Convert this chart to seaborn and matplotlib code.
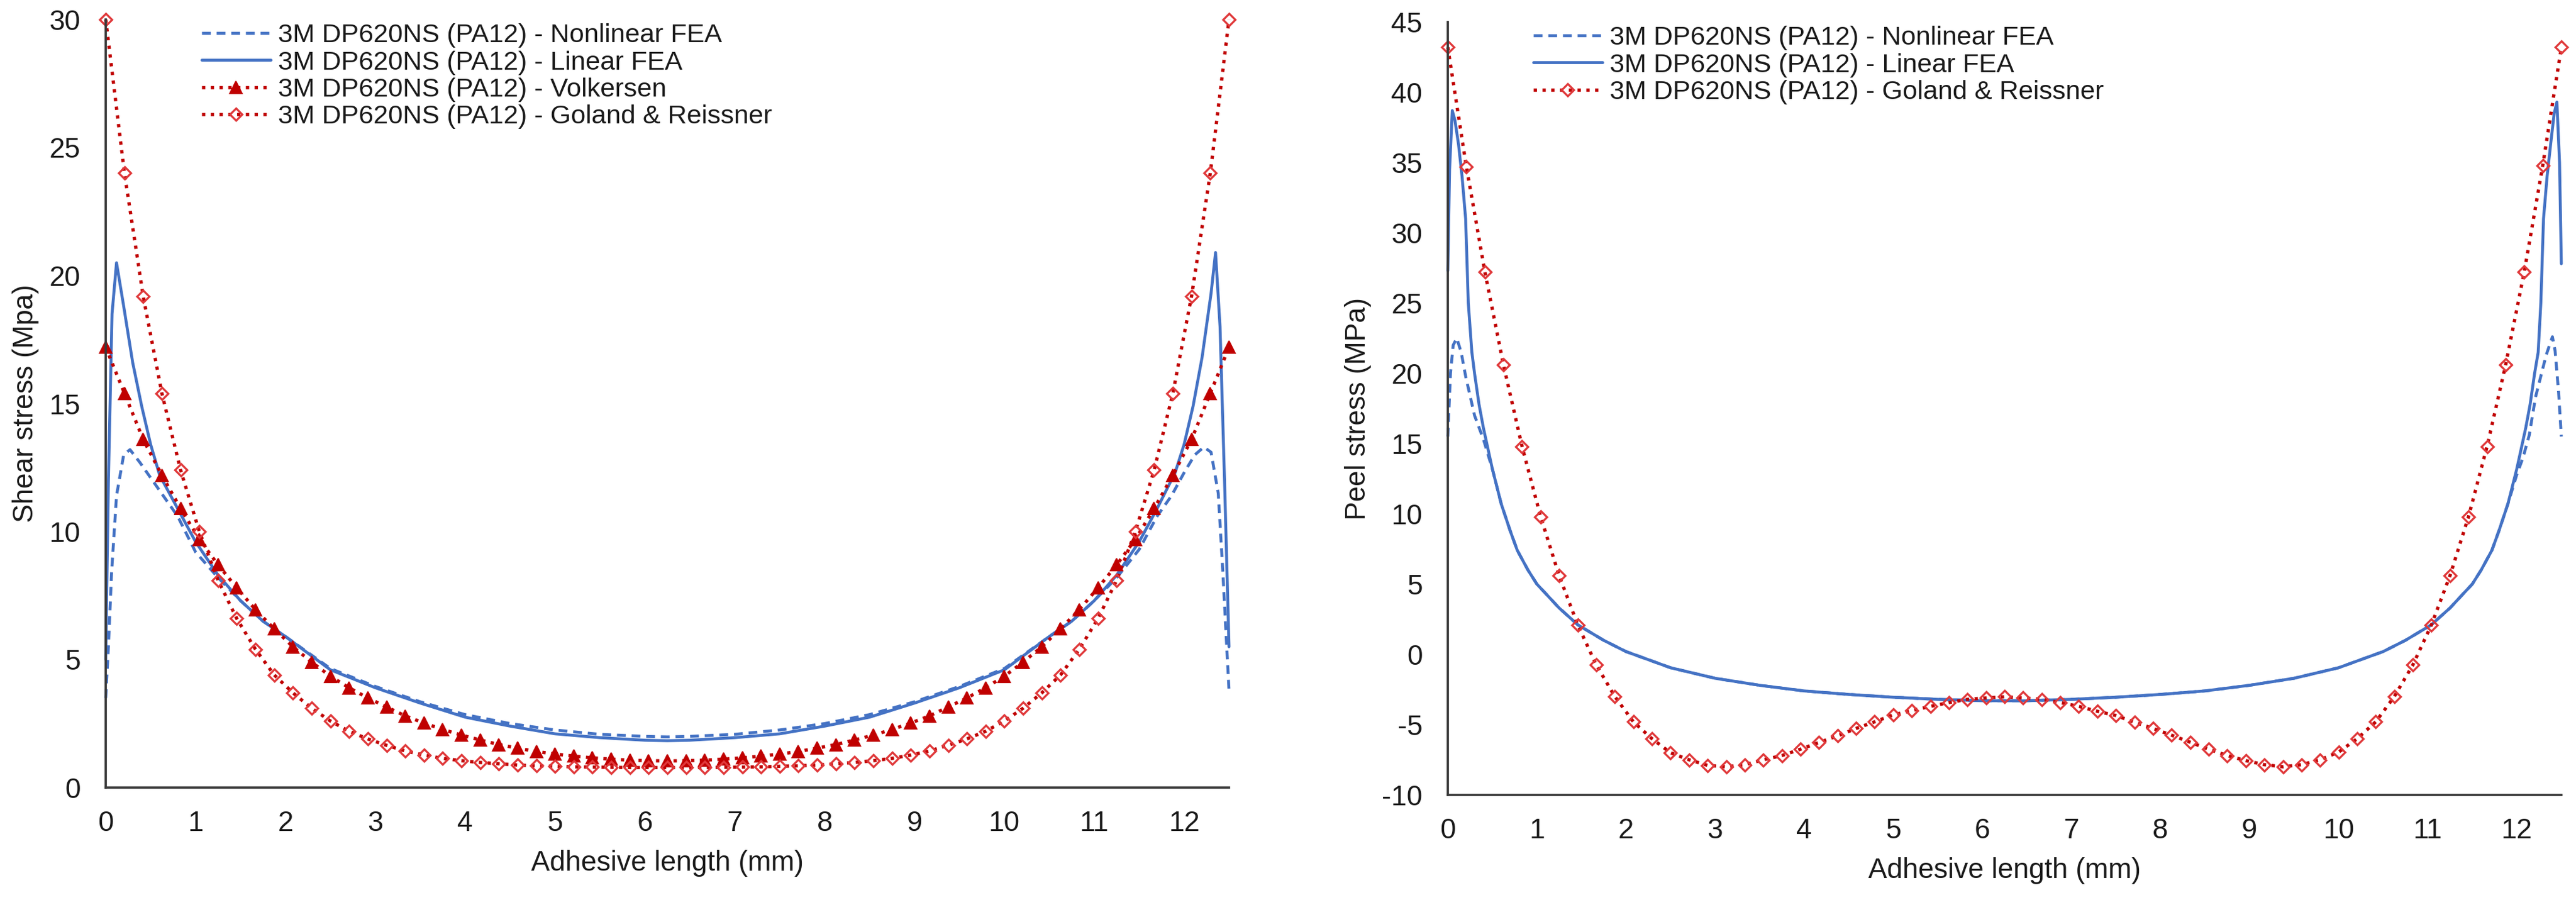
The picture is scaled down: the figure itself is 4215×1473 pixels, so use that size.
import numpy as np
import pandas as pd
import matplotlib
matplotlib.use("Agg")
import matplotlib.pyplot as plt
import seaborn as sns

# ---------------- data ----------------
series_names = ["3M DP620NS (PA12) - Nonlinear FEA",
                "3M DP620NS (PA12) - Linear FEA",
                "3M DP620NS (PA12) - Volkersen",
                "3M DP620NS (PA12) - Goland & Reissner"]

# analytical solutions sampled every 12.5/60 mm
x_analytic = [i * 12.5 / 60 for i in range(61)]

shear_volkersen = [17.2, 15.4, 13.6, 12.2, 10.9, 9.7, 8.7, 7.8, 6.95, 6.2,
                   5.5, 4.9, 4.35, 3.9, 3.5, 3.15, 2.8, 2.52, 2.27, 2.05,
                   1.86, 1.68, 1.54, 1.41, 1.31, 1.23, 1.16, 1.11, 1.07, 1.05,
                   1.04,
                   1.05, 1.07, 1.11, 1.16, 1.23, 1.31, 1.41, 1.54, 1.68, 1.86,
                   2.05, 2.27, 2.52, 2.8, 3.15, 3.5, 3.9, 4.35, 4.9, 5.5,
                   6.2, 6.95, 7.8, 8.7, 9.7, 10.9, 12.2, 13.6, 15.4, 17.2]

shear_goland = [30.0, 24.0, 19.2, 15.4, 12.4, 10.0, 8.1, 6.6, 5.4, 4.4,
                3.7, 3.1, 2.6, 2.2, 1.9, 1.65, 1.43, 1.27, 1.14, 1.05,
                0.98, 0.93, 0.88, 0.85, 0.83, 0.81, 0.80, 0.79, 0.78, 0.78,
                0.78,
                0.78, 0.78, 0.79, 0.80, 0.81, 0.83, 0.85, 0.88, 0.93, 0.98,
                1.05, 1.14, 1.27, 1.43, 1.65, 1.9, 2.2, 2.6, 3.1, 3.7,
                4.4, 5.4, 6.6, 8.1, 10.0, 12.4, 15.4, 19.2, 24.0, 30.0]

peel_goland = [43.2, 34.7, 27.2, 20.6, 14.8, 9.8, 5.6, 2.1, -0.75, -3.0,
               -4.8, -6.0, -7.0, -7.5, -7.9, -8.0, -7.85, -7.5, -7.2, -6.75,
               -6.27, -5.8, -5.27, -4.8, -4.3, -4.0, -3.7, -3.43, -3.2, -3.1,
               -3.02,
               -3.1, -3.2, -3.43, -3.7, -4.05, -4.35, -4.83, -5.27, -5.75, -6.25,
               -6.75, -7.2, -7.56, -7.85, -8.0, -7.85, -7.5, -6.95, -6.0, -4.8,
               -3.0, -0.75, 2.1, 5.6, 9.8, 14.8, 20.6, 27.2, 34.8, 43.2]

# FEA shear stress
x_shear_lin = [0.0, 0.03, 0.07, 0.12, 0.2, 0.3, 0.4, 0.5, 0.6, 0.8, 1.0, 1.25,
               1.5, 1.75, 2.0, 2.5, 3.0, 3.5, 4.0, 4.5, 5.0, 5.5, 6.0, 6.25,
               6.5, 7.0, 7.5, 8.0, 8.5, 9.0, 9.5, 10.0, 10.5, 10.75, 11.0, 11.25,
               11.5, 11.7, 11.9, 12.0, 12.1, 12.2, 12.3, 12.35, 12.4, 12.45, 12.5]
shear_lin = [5.0, 12.0, 18.5, 20.5, 18.8, 16.6, 14.9, 13.4, 12.2, 10.9, 9.6, 8.3,
             7.3, 6.5, 5.9, 4.6, 3.9, 3.3, 2.75, 2.4, 2.1, 1.95, 1.85, 1.83,
             1.85, 1.95, 2.1, 2.4, 2.75, 3.3, 3.9, 4.6, 5.9, 6.5, 7.3, 8.3,
             9.6, 10.9, 12.3, 13.4, 14.9, 16.8, 19.3, 20.9, 18.0, 12.0, 5.5]

x_shear_nl = [0.0, 0.03, 0.065, 0.12, 0.2, 0.27, 0.38, 0.5, 0.64, 0.8, 1.0, 1.25,
              1.5, 1.75, 2.0, 2.5, 3.0, 3.5, 4.0, 4.5, 5.0, 5.5, 6.0, 6.25,
              6.5, 7.0, 7.5, 8.0, 8.5, 9.0, 9.5, 10.0, 10.5, 10.75, 11.0, 11.25,
              11.5, 11.7, 11.86, 12.0, 12.12, 12.22, 12.3, 12.38, 12.43, 12.47, 12.5]
shear_nl = [3.5, 5.5, 8.4, 11.4, 13.0, 13.2, 12.7, 12.1, 11.4, 10.6, 9.2, 8.2,
            7.3, 6.5, 5.9, 4.65, 3.95, 3.35, 2.85, 2.5, 2.25, 2.08, 2.0, 1.98,
            2.0, 2.08, 2.25, 2.5, 2.85, 3.35, 3.95, 4.65, 5.9, 6.5, 7.3, 8.2,
            9.3, 10.6, 11.4, 12.3, 13.0, 13.3, 13.1, 11.5, 8.5, 5.8, 3.8]

# FEA peel stress
x_peel_lin = [0.0, 0.02, 0.05, 0.08, 0.12, 0.16, 0.2, 0.23, 0.27, 0.3, 0.35, 0.4,
              0.5, 0.6, 0.7, 0.78, 0.9, 1.0, 1.25, 1.46, 1.75, 2.0, 2.5, 3.0,
              3.5, 4.0, 4.5, 5.0, 5.5, 6.0, 6.25, 6.5, 7.0, 7.5, 8.0, 8.5,
              9.0, 9.5, 10.0, 10.5, 10.75, 11.04, 11.25, 11.5, 11.6, 11.72, 11.8,
              11.9, 12.0, 12.1, 12.15, 12.2, 12.24, 12.27, 12.3, 12.34, 12.38,
              12.42, 12.45, 12.48, 12.5]
peel_lin = [27.3, 34.5, 38.7, 38.0, 36.3, 34.0, 31.0, 25.0, 21.5, 20.0, 17.8, 16.1,
            13.2, 10.7, 8.8, 7.4, 6.0, 5.0, 3.3, 2.1, 1.0, 0.2, -0.95, -1.7,
            -2.2, -2.6, -2.85, -3.05, -3.2, -3.3, -3.3, -3.3, -3.2, -3.05, -2.85, -2.6,
            -2.2, -1.7, -0.95, 0.2, 1.0, 2.1, 3.3, 5.0, 6.0, 7.4, 8.8,
            10.7, 13.2, 16.1, 17.8, 20.0, 21.5, 25.0, 31.0, 34.0, 36.3,
            38.5, 39.3, 35.0, 27.8]

x_peel_nl = [0.0, 0.03, 0.06, 0.1, 0.15, 0.2, 0.3, 0.4, 0.5, 0.6, 0.7, 0.78,
             0.9, 1.0, 1.25, 1.46, 1.75, 2.0, 2.5, 3.0, 3.5, 4.0, 4.5, 5.0, 5.5,
             6.0, 6.25, 6.5, 7.0, 7.5, 8.0, 8.5, 9.0, 9.5, 10.0, 10.5, 10.75,
             11.04, 11.25, 11.5, 11.6, 11.72, 11.8, 11.9, 12.0, 12.07, 12.14, 12.21,
             12.33, 12.4, 12.43, 12.47, 12.5]
peel_nl = [15.5, 20.0, 22.0, 22.5, 21.5, 19.8, 17.0, 15.3, 13.2, 10.7, 8.8, 7.4,
           6.0, 5.0, 3.3, 2.1, 1.0, 0.2, -0.95, -1.7, -2.2, -2.6, -2.85, -3.05, -3.2,
           -3.3, -3.3, -3.3, -3.2, -3.05, -2.85, -2.6, -2.2, -1.7, -0.95, 0.2, 1.0,
           2.1, 3.3, 5.0, 6.0, 7.4, 8.8, 10.7, 12.8, 14.0, 15.6, 18.3,
           21.3, 22.6, 21.6, 18.6, 15.5]

x_ticks = list(range(0, 13))
shear_ticks = list(range(0, 31, 5))
peel_ticks = list(range(-10, 46, 5))

# ---------------- style ----------------
sns.set_style("white")
plt.rcParams["font.family"] = ["Liberation Sans", "DejaVu Sans"]
BLUE = "#4472C4"
RED = "#C00000"
RED_D = "#E0383A"
TXT = "#1a1a1a"
SPINE = "#3a3a3a"

fig = plt.figure(figsize=(4215 / 300, 1473 / 300), dpi=300)
axL = fig.add_axes([173 / 4215, 1 - 1289 / 1473, (2011 - 173) / 4215, (1289 - 32) / 1473])
axR = fig.add_axes([2369 / 4215, 1 - 1301 / 1473, (4191 - 2369) / 4215, (1301 - 36) / 1473])

lw = 1.15
dash_nl = (0, (3.0, 2.0))

def draw(ax, x, y, **kw):
    sns.lineplot(x=x, y=y, ax=ax, errorbar=None, sort=False, clip_on=False, **kw)

# left: shear
draw(axL, x_shear_nl, shear_nl, color=BLUE, linestyle=dash_nl, linewidth=lw, label=series_names[0])
draw(axL, x_shear_lin, shear_lin, color=BLUE, linestyle="-", linewidth=lw, label=series_names[1])
draw(axL, x_analytic, shear_volkersen, color=RED, linestyle=":", linewidth=1.3,
     marker="^", markersize=4.6, markerfacecolor=RED, markeredgecolor=RED,
     markeredgewidth=0.5, label=series_names[2])
draw(axL, x_analytic, shear_goland, color=RED, linestyle=":", linewidth=1.3,
     marker="D", markersize=3.5, markerfacecolor="none", markeredgecolor=RED_D,
     markeredgewidth=0.8, label=series_names[3])

# right: peel
draw(axR, x_peel_nl, peel_nl, color=BLUE, linestyle=dash_nl, linewidth=lw, label=series_names[0])
draw(axR, x_peel_lin, peel_lin, color=BLUE, linestyle="-", linewidth=lw, label=series_names[1])
draw(axR, x_analytic, peel_goland, color=RED, linestyle=":", linewidth=1.3,
     marker="D", markersize=3.5, markerfacecolor="none", markeredgecolor=RED_D,
     markeredgewidth=0.8, label=series_names[3])

for ax, yt, ylab, lx in [(axL, shear_ticks, "Shear stress (Mpa)", 0.0854),
                         (axR, peel_ticks, "Peel stress (MPa)", 0.0768)]:
    ax.set_xlim(0, 12.5)
    ax.set_ylim(yt[0], yt[-1])
    ax.set_xticks(x_ticks)
    ax.set_yticks(yt)
    ax.set_xticklabels([str(v) for v in x_ticks])
    ax.set_yticklabels([str(v) for v in yt])
    for s in ["top", "right"]:
        ax.spines[s].set_visible(False)
    for s in ["left", "bottom"]:
        ax.spines[s].set_color(SPINE)
        ax.spines[s].set_linewidth(0.9)
    ax.tick_params(axis="both", direction="in", length=3.6, width=0.7,
                   color=SPINE, labelsize=11, labelcolor=TXT)
    ax.tick_params(axis="y", pad=10)
    ax.tick_params(axis="x", pad=9)
    ax.set_xlabel("Adhesive length (mm)", fontsize=11, color=TXT, labelpad=5)
    ax.set_ylabel(ylab, fontsize=11, color=TXT, labelpad=4)
    ax.grid(False)
    leg = ax.legend(loc="upper left", bbox_to_anchor=(lx, 0.995), frameon=False,
                    fontsize=10.4, borderpad=0, borderaxespad=0,
                    handlelength=2.6, handletextpad=0.28, labelspacing=0.1,
                    numpoints=1)
    for t in leg.get_texts():
        t.set_color(TXT)

fig.savefig("out.png", dpi=300)
